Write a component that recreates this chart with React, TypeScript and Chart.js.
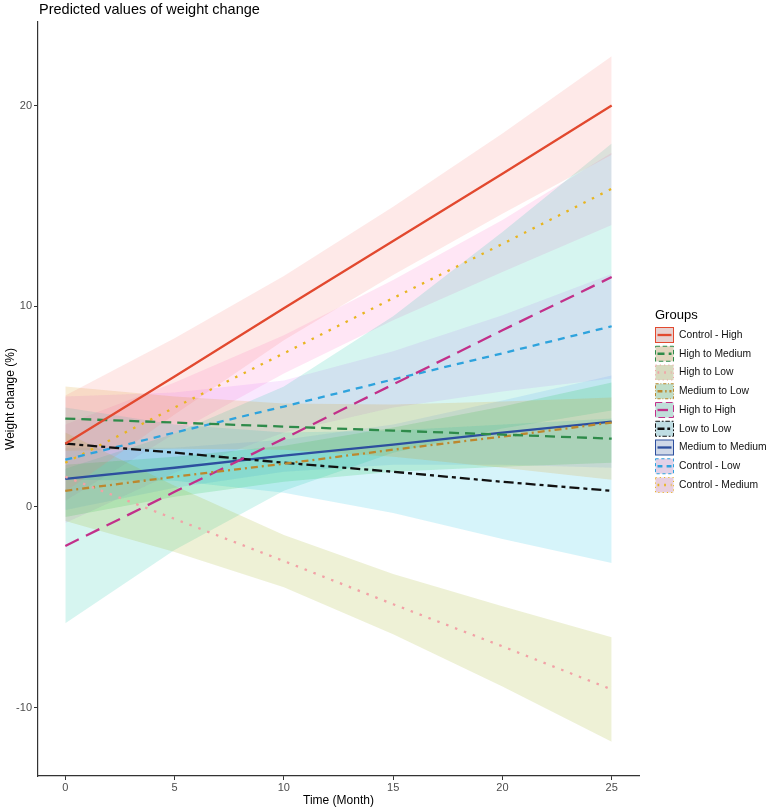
import React, { useEffect, useRef } from "react";
import { Chart, registerables } from "chart.js";

Chart.register(...registerables);

// ---------- data ----------
const months = [0, 5, 10, 15, 20, 25];
const xTicks = [0, 5, 10, 15, 20, 25];
const yTicks = [-10, 0, 10, 20];

const groupNames = [
  "Control - High",
  "High to Medium",
  "High to Low",
  "Medium to Low",
  "High to High",
  "Low to Low",
  "Medium to Medium",
  "Control - Low",
  "Control - Medium",
];

const lineColors = [
  "#E2492F",
  "#2E8B4A",
  "#F2A2A6",
  "#BC882E",
  "#C2308A",
  "#111111",
  "#2D4F9E",
  "#2EA3DD",
  "#E8B520",
];

const fillColors = [
  "rgba(248,118,109,0.16)",
  "rgba(211,146,0,0.16)",
  "rgba(147,170,0,0.16)",
  "rgba(0,186,56,0.16)",
  "rgba(0,193,159,0.16)",
  "rgba(0,185,227,0.16)",
  "rgba(97,156,255,0.16)",
  "rgba(219,114,251,0.16)",
  "rgba(255,97,195,0.16)",
];

const lineDashes: number[][] = [
  [],
  [10, 6],
  [2.5, 7],
  [7, 4, 2, 4],
  [15, 8],
  [10, 4, 4, 4],
  [],
  [7, 6],
  [2.5, 7],
];

// predicted values (fit) and confidence bands at each month
const controlHighFit = [3.15, 6.5, 9.9, 13.25, 16.6, 20.0];
const controlHighLow = [0.75, 4.6, 8.3, 11.55, 14.6, 17.55];
const controlHighUp = [5.55, 8.4, 11.5, 14.95, 18.6, 22.45];

const highMedFit = [4.4, 4.2, 4.0, 3.8, 3.6, 3.4];
const highMedLow = [2.8, 2.9, 2.85, 2.5, 1.95, 1.35];
const highMedUp = [6.0, 5.5, 5.15, 5.1, 5.25, 5.45];

const highLowFit = [1.5, -0.6, -2.7, -4.85, -6.95, -9.1];
const highLowLow = [-0.7, -2.25, -4.0, -6.35, -8.95, -11.7];
const highLowUp = [3.7, 1.05, -1.4, -3.35, -4.95, -6.5];

const medLowFit = [0.8, 1.5, 2.15, 2.85, 3.5, 4.2];
const medLowLow = [-0.5, 0.5, 1.25, 1.75, 2.0, 2.2];
const medLowUp = [2.1, 2.5, 3.05, 3.95, 5.0, 6.2];

const highHighFit = [-1.95, 0.75, 3.4, 6.1, 8.8, 11.45];
const highHighLow = [-5.8, -2.15, 0.8, 2.7, 3.9, 4.8];
const highHighUp = [1.9, 3.65, 6.0, 9.5, 13.7, 18.1];

const lowLowFit = [3.15, 2.7, 2.2, 1.75, 1.25, 0.8];
const lowLowLow = [1.35, 1.3, 0.7, -0.3, -1.6, -2.8];
const lowLowUp = [4.95, 4.1, 3.7, 3.8, 4.1, 4.4];

const medMedFit = [1.4, 1.95, 2.55, 3.1, 3.7, 4.25];
const medMedLow = [-0.15, 0.95, 1.75, 2.1, 2.1, 1.95];
const medMedUp = [2.95, 2.95, 3.35, 4.1, 5.3, 6.55];

const controlLowFit = [2.35, 3.7, 5.0, 6.35, 7.65, 9.0];
const controlLowLow = [-0.8, 1.7, 3.7, 4.95, 5.75, 6.4];
const controlLowUp = [5.5, 5.7, 6.3, 7.75, 9.55, 11.6];

const controlMedFit = [2.2, 4.95, 7.65, 10.4, 13.1, 15.85];
const controlMedLow = [0.3, 3.65, 6.65, 9.3, 11.7, 14.05];
const controlMedUp = [4.1, 6.2, 8.55, 11.3, 14.3, 17.65];

const fits = [controlHighFit, highMedFit, highLowFit, medLowFit, highHighFit, lowLowFit, medMedFit, controlLowFit, controlMedFit];
const lowers = [controlHighLow, highMedLow, highLowLow, medLowLow, highHighLow, lowLowLow, medMedLow, controlLowLow, controlMedLow];
const uppers = [controlHighUp, highMedUp, highLowUp, medLowUp, highHighUp, lowLowUp, medMedUp, controlLowUp, controlMedUp];

const FONT = "'Liberation Sans', Arial, sans-serif";

const toPts = (ys: number[]) => months.map((m, i) => ({ x: m, y: ys[i] }));

const overlayPlugin = {
  id: "overlay",
  afterDraw(chart: any) {
    const ctx = chart.ctx as CanvasRenderingContext2D;
    const area = chart.chartArea;
    ctx.save();
    // title
    ctx.fillStyle = "#000";
    ctx.font = `14.5px ${FONT}`;
    ctx.textAlign = "left";
    ctx.textBaseline = "middle";
    ctx.fillText("Predicted values of weight change", 39, 10);

    // axis titles
    ctx.font = `12px ${FONT}`;
    ctx.textAlign = "center";
    ctx.fillText("Time (Month)", (area.left + area.right) / 2, 801);
    ctx.save();
    ctx.translate(11, (area.top + area.bottom) / 2);
    ctx.rotate(-Math.PI / 2);
    ctx.fillText("Weight change (%)", 0, 0);
    ctx.restore();

    // legend
    ctx.textAlign = "left";
    ctx.font = `13px ${FONT}`;
    ctx.fillText("Groups", 655, 315);
    ctx.font = `10.3px ${FONT}`;
    groupNames.forEach((name, i) => {
      const cy = 335 + i * 18.75;
      const bx = 655.5;
      const by = cy - 7.5;
      ctx.setLineDash([]);
      ctx.fillStyle = "#E4E4E4";
      ctx.fillRect(bx, by, 18, 15);
      ctx.fillStyle = fillColors[i];
      ctx.fillRect(bx, by, 18, 15);
      ctx.strokeStyle = lineColors[i];
      ctx.lineWidth = 1;
      ctx.setLineDash(lineDashes[i].map((d) => d * 0.45));
      ctx.strokeRect(bx, by, 18, 15);
      ctx.lineWidth = 2.3;
      ctx.setLineDash(lineDashes[i].map((d) => d * 0.7));
      ctx.beginPath();
      ctx.moveTo(bx + 2, cy);
      ctx.lineTo(bx + 16, cy);
      ctx.stroke();
      ctx.setLineDash([]);
      ctx.fillStyle = "#111";
      ctx.fillText(name, 679, cy);
    });
    ctx.restore();
  },
};

export default function App() {
  const canvasRef = useRef<HTMLCanvasElement | null>(null);

  useEffect(() => {
    document.body.style.margin = "0";
    const canvas = canvasRef.current;
    if (!canvas) return;

    const ribbonSets: any[] = [];
    groupNames.forEach((name, i) => {
      ribbonSets.push({
        label: name + " lower",
        data: toPts(lowers[i]),
        borderWidth: 0,
        pointRadius: 0,
        fill: false,
        order: 1,
        tension: 0,
      });
      ribbonSets.push({
        label: name + " upper",
        data: toPts(uppers[i]),
        borderWidth: 0,
        pointRadius: 0,
        fill: "-1",
        backgroundColor: fillColors[i],
        order: 1,
        tension: 0,
      });
    });
    const lineSets = groupNames.map((name, i) => ({
      label: name,
      data: toPts(fits[i]),
      borderColor: lineColors[i],
      borderWidth: 2.3,
      borderDash: lineDashes[i],
      borderCapStyle: "butt",
      pointRadius: 0,
      fill: false,
      order: 0,
      tension: 0,
    }));

    const tickFont = { family: FONT, size: 11 };
    const chart = new Chart(canvas, {
      type: "line",
      data: { datasets: [...ribbonSets, ...lineSets] as any },
      options: {
        animation: false,
        responsive: false,
        devicePixelRatio: 1,
        layout: { padding: { top: 22, right: 129, bottom: 0, left: 0 } },
        plugins: {
          legend: { display: false },
          title: { display: false },
          tooltip: { enabled: false },
        },
        scales: {
          x: {
            type: "linear",
            min: -1.25,
            max: 26.25,
            afterBuildTicks: (s: any) => {
              s.ticks = xTicks.map((v) => ({ value: v }));
            },
            afterFit: (s: any) => {
              s.height = 36;
            },
            ticks: { font: tickFont, color: "#4D4D4D", padding: 1, maxRotation: 0, autoSkip: false },
            grid: { display: true, drawOnChartArea: false, drawTicks: true, tickLength: 4, tickColor: "#333", tickWidth: 1 },
            border: { display: true, color: "#333", width: 1.2 },
          },
          y: {
            type: "linear",
            min: -13.41,
            max: 24.16,
            afterBuildTicks: (s: any) => {
              s.ticks = yTicks.map((v) => ({ value: v }));
            },
            afterFit: (s: any) => {
              s.width = 38;
            },
            ticks: { font: tickFont, color: "#4D4D4D", padding: 2 },
            grid: { display: true, drawOnChartArea: false, drawTicks: true, tickLength: 4, tickColor: "#333", tickWidth: 1 },
            border: { display: true, color: "#333", width: 1.2 },
          },
        },
      } as any,
      plugins: [overlayPlugin],
    });
    return () => chart.destroy();
  }, []);

  return (
    <div style={{ width: 768, height: 812, background: "#fff" }}>
      <canvas ref={canvasRef} width={768} height={812} style={{ display: "block" }} />
    </div>
  );
}
